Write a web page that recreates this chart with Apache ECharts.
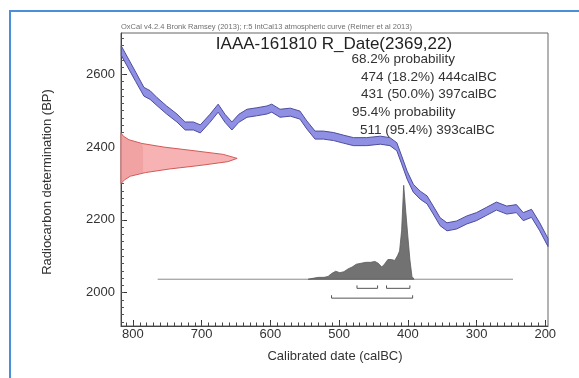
<!DOCTYPE html>
<html>
<head>
<meta charset="utf-8">
<script src="https://cdn.jsdelivr.net/npm/echarts@6/dist/echarts.min.js"></script>
<style>
  html, body { margin: 0; padding: 0; background: #ffffff; }
  #chart { width: 579px; height: 378px; }
</style>
</head>
<body>
<div id="chart"></div>
<script>
// IntCal13 calibration curve: calendar age (calBC), radiocarbon age (BP) and 1-sigma half width
const curveCal = [817, 796, 784, 775, 765, 751, 736, 724, 712, 702, 688, 676, 666, 656, 646, 634, 620, 605, 598, 586, 571, 557, 547, 535, 523, 508, 494, 479, 460, 440, 426, 416, 409, 401, 392, 382, 372, 363, 353, 343, 329, 314, 300, 286, 271, 256, 242, 232, 220, 208, 198, 196];
const curveBP  = [2665, 2593, 2552, 2543, 2525, 2502, 2480, 2458, 2458, 2450, 2479, 2507, 2479, 2458, 2479, 2493, 2497, 2502, 2507, 2493, 2496, 2488, 2461, 2433, 2433, 2429, 2422, 2415, 2415, 2419, 2415, 2401, 2365, 2323, 2287, 2268, 2255, 2227, 2195, 2181, 2186, 2200, 2209, 2223, 2238, 2227, 2231, 2209, 2218, 2181, 2145, 2138];
const curveErr = [13, 13, 12, 12, 11, 11, 11, 11, 11, 11, 11, 11, 11, 11, 11, 11, 11, 11, 11, 11, 11, 11, 11, 11, 11, 11, 11, 11, 11, 11, 11, 11, 11, 11, 11, 11, 11, 11, 11, 11, 11, 11, 11, 11, 11, 11, 11, 11, 11, 11, 11, 11];

// Radiocarbon measurement R_Date(2369,22): relative probability by BP
const rdBP      = [2439, 2430, 2420, 2410, 2400, 2390, 2380, 2369, 2360, 2350, 2340, 2330, 2320, 2310, 2300];
const rdDensity = [0.00, 0.02, 0.07, 0.18, 0.37, 0.63, 0.88, 1.00, 0.92, 0.69, 0.42, 0.21, 0.08, 0.03, 0.00];

// Calibrated date: relative probability (peak = 100) by calBC
const calDate    = [545, 538, 530, 522, 516, 511, 505, 499, 493, 487, 481, 475, 468, 461, 454, 448, 443, 438, 434, 429, 424, 419, 415, 412, 409, 406, 403, 400, 397, 394, 391];
const calDensity = [0, 1, 2, 2, 3, 6, 8.5, 7, 8, 11, 13, 16, 17, 18, 18, 19, 17, 13, 16, 21, 21, 20, 25, 30, 52, 100, 72, 46, 21, 3, 0];

// Highest posterior density ranges [from, to] in calBC
const range68 = [[474, 444], [431, 397]];
const range95 = [[511, 393]];

// Axis ticks
const xMajorTicks = [800, 700, 600, 500, 400, 300, 200];
const yMajorTicks = [2000, 2200, 2400, 2600];

// Text
const titleText  = 'IAAA-161810 R_Date(2369,22)';
const headerText = 'OxCal v4.2.4 Bronk Ramsey (2013); r:5 IntCal13 atmospheric curve (Reimer et al 2013)';
const probLines  = ['68.2% probability', '474 (18.2%) 444calBC', '431 (50.0%) 397calBC', '95.4% probability', '511 (95.4%) 393calBC'];

// ---- layout / scale constants ----
const X_MIN = 196, X_MAX = 817.4;     // calBC extent (axis inverted)
const Y_MIN = 1908.5, Y_MAX = 2713.5; // BP extent
const RD_WIDTH = 169;                 // peak width of the R_Date profile in calBC units
const RD_SHADE = 0.19;                // inner shaded strip of the R_Date profile
const CAL_BASE = 2037, CAL_HEIGHT = 258; // baseline and peak height of calibrated profile (BP units)
const ROW68 = 2012, ROW95 = 1985, BRACKET_TICK = 8;

const FONT = '"Liberation Sans", Arial, Helvetica, sans-serif';

function range(a, b, step) { const r = []; for (let v = a; v <= b; v += step) r.push(v); return r; }

function polygon(getPoints, style, z) {
  return {
    type: 'custom', coordinateSystem: 'cartesian2d', silent: true, z: z,
    data: [[500, 2300]],
    renderItem: function (params, api) {
      return { type: 'polygon', shape: { points: getPoints().map(function (p) { return api.coord(p); }) }, style: style };
    }
  };
}

// calibration band polygon
function bandPoints() {
  const upper = curveCal.map((c, i) => [c, curveBP[i] + curveErr[i]]);
  const lower = curveCal.map((c, i) => [c, curveBP[i] - curveErr[i]]).reverse();
  return upper.concat(lower);
}
// R_Date profile along the y axis
function rdPoints(cap) {
  const outer = rdBP.map((b, i) => [X_MAX - Math.min(rdDensity[i], cap) * RD_WIDTH, b]);
  return outer.concat([[X_MAX, rdBP[rdBP.length - 1]], [X_MAX, rdBP[0]]]);
}
// calibrated probability profile
function calPoints() {
  const top = calDate.map((c, i) => [c, CAL_BASE + calDensity[i] / 100 * CAL_HEIGHT]);
  return top.concat([[calDate[calDate.length - 1], CAL_BASE], [calDate[0], CAL_BASE]]);
}

function bracketSeries(r, row) {
  return {
    type: 'line', silent: true, symbol: 'none', z: 5,
    lineStyle: { color: '#555', width: 1 },
    data: [[r[0], row + BRACKET_TICK], [r[0], row], [r[1], row], [r[1], row + BRACKET_TICK]]
  };
}

const chart = echarts.init(document.getElementById('chart'), null, { renderer: 'canvas' });

const axisTextStyle = { color: '#333', fontSize: 13, fontFamily: FONT, formatter: v => String(v) };

const option = {
  animation: false,
  backgroundColor: '#ffffff',
  grid: {
    left: 121, top: 33, right: 31, bottom: 52,
    show: true, borderColor: '#666', borderWidth: 1,
    outerBoundsMode: 'none'
  },
  xAxis: [
    {
      type: 'value', inverse: true, min: X_MIN, max: X_MAX,
      axisLine: { show: true, onZero: false, lineStyle: { color: '#444', width: 1 } },
      axisTick: { show: true, inside: true, length: 6, customValues: xMajorTicks, lineStyle: { color: '#333', width: 1 } },
      axisLabel: Object.assign({ margin: 2, customValues: xMajorTicks }, axisTextStyle),
      splitLine: { show: false }
    },
    {
      type: 'value', inverse: true, min: X_MIN, max: X_MAX, position: 'bottom', offset: 0,
      axisLine: { show: true, onZero: false, lineStyle: { color: 'rgba(0,0,0,0)' } },
      axisTick: { show: true, inside: true, length: 3.5, customValues: range(200, 810, 10), lineStyle: { color: '#444', width: 1 } },
      axisLabel: { show: false },
      splitLine: { show: false }
    }
  ],
  yAxis: [
    {
      type: 'value', min: Y_MIN, max: Y_MAX,
      axisLine: { show: true, onZero: false, lineStyle: { color: '#444', width: 1 } },
      axisTick: { show: true, inside: true, length: 6, customValues: yMajorTicks, lineStyle: { color: '#333', width: 1 } },
      axisLabel: Object.assign({ margin: 6, customValues: yMajorTicks }, axisTextStyle),
      splitLine: { show: false }
    },
    {
      type: 'value', min: Y_MIN, max: Y_MAX, position: 'left', offset: 0,
      axisLine: { show: true, onZero: false, lineStyle: { color: 'rgba(0,0,0,0)' } },
      axisTick: { show: true, inside: true, length: 3, customValues: range(1920, 2700, 20), lineStyle: { color: '#555', width: 1 } },
      axisLabel: { show: false },
      splitLine: { show: false }
    }
  ],
  series: [
    // R_Date profile
    polygon(() => rdPoints(1), { fill: '#f7b3b3', stroke: '#d25a5a', lineWidth: 1 }, 2),
    polygon(() => rdPoints(RD_SHADE), { fill: 'rgba(225,110,110,0.22)', stroke: 'none' }, 3),
    // calibration curve band
    polygon(bandPoints, { fill: '#8f8fe3', stroke: '#4d4d9e', lineWidth: 1 }, 4),
    // calibrated probability
    {
      type: 'line', silent: true, symbol: 'none', z: 3,
      lineStyle: { color: '#8a8a8a', width: 1 },
      data: [[764, CAL_BASE], [247, CAL_BASE]]
    },
    polygon(calPoints, { fill: '#727272', stroke: '#5a5a5a', lineWidth: 0.8 }, 4),
    ...range68.map(r => bracketSeries(r, ROW68)),
    ...range95.map(r => bracketSeries(r, ROW95))
  ],
  graphic: [
    { type: 'rect', silent: true, z: 0, shape: { x: 10, y: 11, width: 620, height: 420 },
      style: { fill: 'none', stroke: '#4a90d9', lineWidth: 2 } },
    { type: 'text', silent: true, x: 121, y: 27,
      style: { text: headerText, font: '7.5px ' + FONT, fill: '#707070', textVerticalAlign: 'middle' } },
    { type: 'text', silent: true, x: 334, y: 44,
      style: { text: titleText, font: '17px ' + FONT, fill: '#222', textAlign: 'center', textVerticalAlign: 'middle' } },
    { type: 'text', silent: true, x: 351.5, y: 59.5,
      style: { text: probLines[0], font: '13.5px ' + FONT, fill: '#333', textVerticalAlign: 'middle' } },
    { type: 'text', silent: true, x: 361, y: 77,
      style: { text: probLines[1], font: '13.5px ' + FONT, fill: '#333', textVerticalAlign: 'middle' } },
    { type: 'text', silent: true, x: 361, y: 94.5,
      style: { text: probLines[2], font: '13.5px ' + FONT, fill: '#333', textVerticalAlign: 'middle' } },
    { type: 'text', silent: true, x: 352, y: 112.5,
      style: { text: probLines[3], font: '13.5px ' + FONT, fill: '#333', textVerticalAlign: 'middle' } },
    { type: 'text', silent: true, x: 360, y: 130.5,
      style: { text: probLines[4], font: '13.5px ' + FONT, fill: '#333', textVerticalAlign: 'middle' } },
    { type: 'text', silent: true, x: 335, y: 356,
      style: { text: 'Calibrated date (calBC)', font: '13px ' + FONT, fill: '#333', textAlign: 'center', textVerticalAlign: 'middle' } },
    { type: 'text', silent: true, x: 47, y: 182, rotation: Math.PI / 2,
      style: { text: 'Radiocarbon determination (BP)', font: '13px ' + FONT, fill: '#333', textAlign: 'center', textVerticalAlign: 'middle' } }
  ]
};

chart.setOption(option);
</script>
</body>
</html>
